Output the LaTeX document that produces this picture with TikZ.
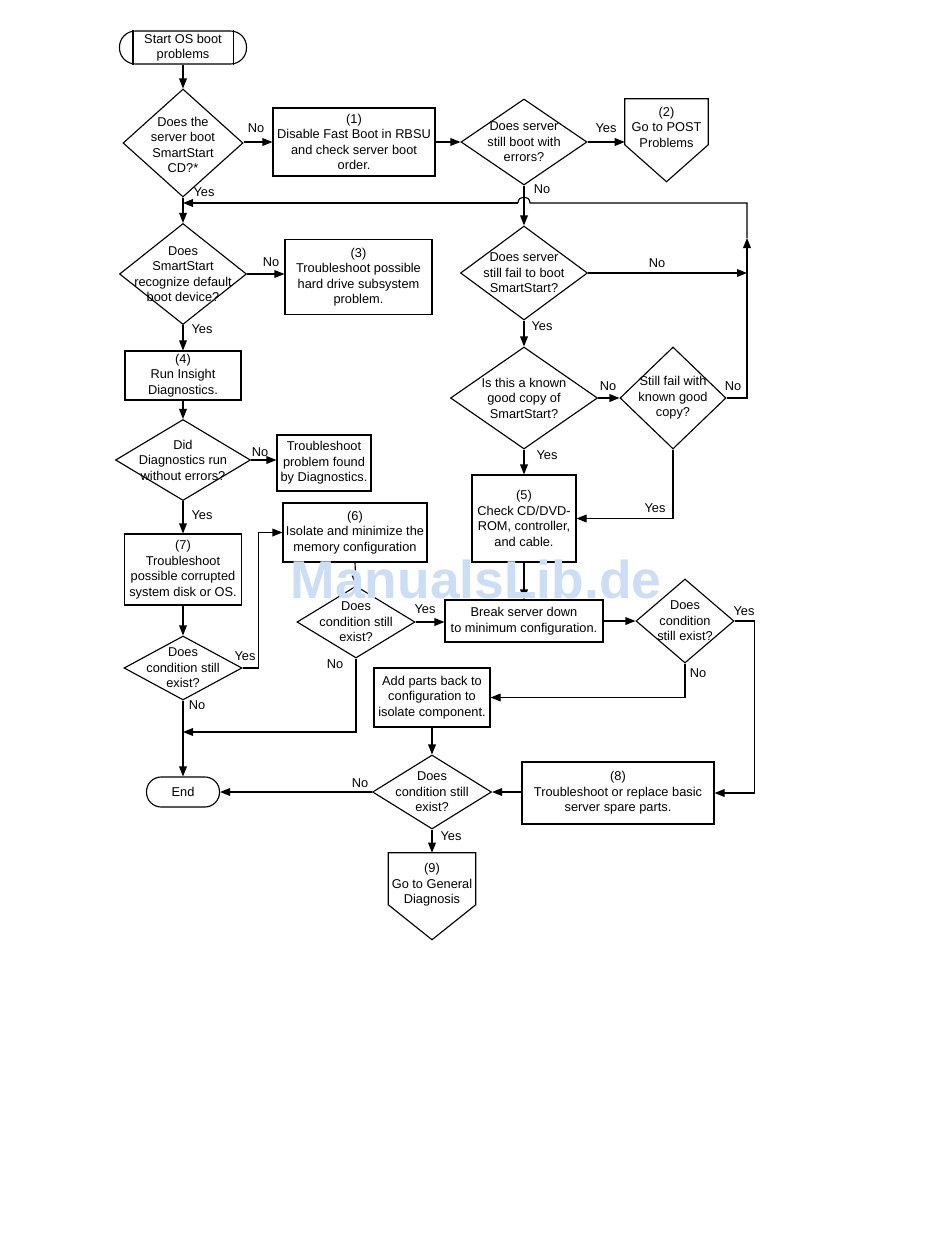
\documentclass[tikz,border=0pt]{standalone}
\usepackage{fontspec}
\setmainfont{Liberation Sans}
\usetikzlibrary{shapes.geometric,arrows.meta,calc}
\definecolor{wmblue}{RGB}{204,222,246}
\begin{document}
\begin{tikzpicture}[x=0.75pt,y=-0.75pt,
  every node/.style={font=\fontsize{9.6}{11.6}\selectfont},
  line/.style={line width=0.85pt},
  arr/.style={line width=0.85pt,-{Triangle[length=7.5pt,width=5.8pt]}},
  box/.style={draw,line width=0.85pt,rectangle,inner sep=0pt,align=center},
  dia/.style={draw,line width=0.85pt,diamond,inner sep=0pt},
  lbl/.style={inner sep=0pt}]
\useasboundingbox (0,0) rectangle (950,1260);
\fill[white] (0,0) rectangle (950,1260);

% ---- terminals
\node[box,rounded corners=12pt,minimum width=127*0.75pt,minimum height=33*0.75pt] (st) at (183,47.5) {Start OS boot\\problems};
\draw[line] ($(st.north west)+(14,0)$) -- ($(st.south west)+(14,0)$);
\draw[line] ($(st.north east)+(-14,0)$) -- ($(st.south east)+(-14,0)$);
\node[box,rounded corners=11pt,minimum width=73*0.75pt,minimum height=30*0.75pt] (en) at (183,792) {End};

% ---- diamonds
\node[dia,minimum width=120*0.75pt,minimum height=108*0.75pt,label={[align=center,yshift=-1.5pt]center:Does the\\server boot\\SmartStart\\CD?*}] (d1) at (183,143) {};
\node[dia,minimum width=126*0.75pt,minimum height=86*0.75pt,label={[align=center]center:Does server\\still boot with\\errors?}] (d2) at (524,142) {};
\node[dia,minimum width=127*0.75pt,minimum height=94*0.75pt,label={[align=center]center:Does server\\still fail to boot\\SmartStart?}] (d3) at (524,273) {};
\node[dia,minimum width=147*0.75pt,minimum height=102*0.75pt,label={[align=center]center:Is this a known\\good copy of\\SmartStart?}] (d4) at (524,398) {};
\node[dia,minimum width=106*0.75pt,minimum height=102*0.75pt,label={[align=center]center:Still fail with\\known good\\copy?}] (d5) at (673,398) {};
\node[dia,minimum width=127*0.75pt,minimum height=101*0.75pt,label={[align=center]center:Does\\SmartStart\\recognize default\\boot device?}] (d8) at (183,274) {};
\node[dia,minimum width=135*0.75pt,minimum height=81*0.75pt,label={[align=center]center:Did\\Diagnostics run\\without errors?}] (d11) at (183,460) {};
\node[dia,minimum width=118*0.75pt,minimum height=64*0.75pt,label={[align=center]center:Does\\condition still\\exist?}] (d7) at (183,668) {};
\node[dia,minimum width=118*0.75pt,minimum height=72*0.75pt,label={[align=center]center:Does\\condition still\\exist?}] (d6) at (356,622) {};
\node[dia,minimum width=98*0.75pt,minimum height=84*0.75pt,label={[align=center]center:Does\\condition\\still exist?}] (d9) at (685,621) {};
\node[dia,minimum width=119*0.75pt,minimum height=74*0.75pt,label={[align=center]center:Does\\condition still\\exist?}] (d10) at (432,792) {};

% ---- boxes
\node[box,minimum width=162*0.75pt,minimum height=68*0.75pt] (b1) at (354,142) {(1)\\Disable Fast Boot in RBSU\\and check server boot\\order.};
\node[box,minimum width=147*0.75pt,minimum height=75*0.75pt] (b3) at (358.5,277) {(3)\\Troubleshoot possible\\hard drive subsystem\\problem.};
\node[box,minimum width=116*0.75pt,minimum height=49*0.75pt] (b4) at (183,375.5) {(4)\\Run Insight\\Diagnostics.};
\node[box,minimum width=94*0.75pt,minimum height=56*0.75pt] (bt) at (324,463) {Troubleshoot\\problem found\\by Diagnostics.};
\node[box,minimum width=104*0.75pt,minimum height=87*0.75pt] (b5) at (524,518.5) {(5)\\Check CD/DVD-\\ROM, controller,\\and cable.};
\node[box,minimum width=158*0.75pt,minimum height=42*0.75pt] (bk) at (524,621) {Break server down\\to minimum configuration.};
\node[box,minimum width=144*0.75pt,minimum height=59*0.75pt] (b6) at (355,532.5) {(6)\\Isolate and minimize the\\memory configuration};
\node[box,minimum width=117*0.75pt,minimum height=71*0.75pt] (b7) at (183,569.5) {(7)\\Troubleshoot\\possible corrupted\\system disk or OS.};
\node[box,minimum width=116*0.75pt,minimum height=59*0.75pt] (ap) at (432,697.5) {Add parts back to\\configuration to\\isolate component.};
\node[box,minimum width=192*0.75pt,minimum height=62*0.75pt] (b8) at (618,793) {(8)\\Troubleshoot or replace basic\\server spare parts.};

% ---- off-page connectors
\node[inner sep=0pt,align=center,minimum width=83*0.75pt,minimum height=56*0.75pt] (p2) at (666.5,127) {(2)\\Go to POST\\Problems};
\draw[line] (p2.north west) -- (p2.north east) -- ($(p2.north east)+(0,46)$) -- ($(p2.north)+(0,83)$) -- ($(p2.north west)+(0,46)$) -- cycle;
\node[inner sep=0pt,align=center,minimum width=87*0.75pt,minimum height=64*0.75pt] (p9) at (432,885) {(9)\\Go to General\\Diagnosis};
\draw[line] (p9.north west) -- (p9.north east) -- ($(p9.north east)+(0,52)$) -- ($(p9.north)+(0,87)$) -- ($(p9.north west)+(0,52)$) -- cycle;

% ---- connectors
\coordinate (rb) at (747,203);
\coordinate (rm) at (747,238);
\coordinate (br) at (d2.south |- rb);
\coordinate (jn) at (183,732);

\draw[arr] (st.south) -- (d1.north);
\draw[arr] (d1.east |- b1.west) -- (b1.west);
\draw[arr] (b1.east) -- (d2.west);
\draw[arr] (d2.east) -- (d2.east -| p2.west);
\draw[arr] (d2.south) -- (d3.north);
\draw[arr] (d5.east) -- (d5.east -| rb) -- (rm);
\draw[line] (rm) -- (rb) -- ($(br)+(6,0)$) .. controls ($(br)+(6,-8)$) and ($(br)+(-6,-8)$) .. ($(br)+(-6,0)$);
\draw[arr] ($(br)+(-6,0)$) -- (d1.south |- rb);
\draw[arr] (d3.east) -- (d3.east -| rb);
\draw[arr] (d3.south) -- (d4.north);
\draw[arr] (d4.east) -- (d5.west);
\draw[arr] (d4.south) -- (b5.north);
\draw[arr] (d5.south) |- (b5.east);
\draw[arr] (b5.south) -- (bk.north);
\draw[arr] (bk.east) -- (d9.west);
\draw[arr] (d9.east) -- ++(20,0) |- (b8.east);
\draw[arr] (d9.south) |- (ap.east);
\draw[arr] (ap.south) -- (d10.north);
\draw[arr] (b8.west |- d10.east) -- (d10.east);
\draw[arr] (d10.west) -- (en.east);
\draw[arr] (d10.south) -- (p9.north);
\draw[arr] (d1.south) -- (d8.north);
\draw[arr] (d8.east) -- (d8.east -| b3.west);
\draw[arr] (d8.south) -- (b4.north);
\draw[arr] (b4.south) -- (d11.north);
\draw[arr] (d11.east) -- (d11.east -| bt.west);
\draw[arr] (d11.south) -- (b7.north);
\draw[arr] (b7.south) -- (d7.north);
\draw[arr] (d7.east) -- ++(16,0) |- (b6.west);
\draw[arr] (b6.south) -- (d6.north);
\draw[arr] (d6.east) -- (d6.east -| bk.west);
\draw[arr] (d6.south) |- (jn);
\draw[arr] (d7.south) -- (en.north);

% ---- connector labels
\node[lbl] (n1) at (256,128) {No};
\node[lbl] (n2) at (606,128) {Yes};
\node[lbl] (n3) at (542,189) {No};
\node[lbl] (n4) at (204,192) {Yes};
\node[lbl] (n5) at (657,263) {No};
\node[lbl] (n6) at (271,262) {No};
\node[lbl] (n7) at (542,326) {Yes};
\node[lbl] (n8) at (202,329) {Yes};
\node[lbl] (n9) at (608,386) {No};
\node[lbl] (n10) at (733,386) {No};
\node[lbl] (n11) at (260,452) {No};
\node[lbl] (n12) at (547,455) {Yes};
\node[lbl] (n13) at (655,508) {Yes};
\node[lbl] (n14) at (202,515) {Yes};
\node[lbl] (n15) at (425,609) {Yes};
\node[lbl] (n16) at (744,611) {Yes};
\node[lbl] (n17) at (245,656) {Yes};
\node[lbl] (n18) at (335,664) {No};
\node[lbl] (n19) at (698,673) {No};
\node[lbl] (n20) at (197,705) {No};
\node[lbl] (n21) at (360,783) {No};
\node[lbl] (n22) at (451,836) {Yes};

% ---- watermark
\node[inner sep=0pt,anchor=base,text=wmblue,font=\fontsize{40}{40}\selectfont\bfseries] (wm) at (476,598) {ManualsLib.de};
\end{tikzpicture}
\end{document}
